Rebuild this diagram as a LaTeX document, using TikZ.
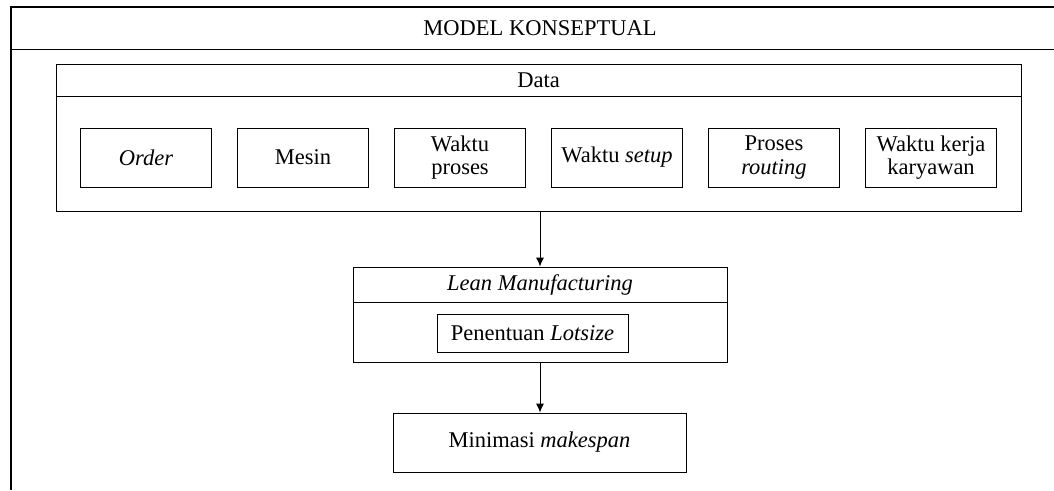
\documentclass[tikz,border=0pt]{standalone}
\usepackage{fontspec}
\setmainfont{Liberation Serif}
\usetikzlibrary{arrows.meta}
\begin{document}
\begin{tikzpicture}[x=1pt,y=-1pt,
  every node/.style={font=\fontsize{22.5}{23.5}\selectfont, inner sep=0pt},
  box/.style={draw, line width=0.9pt, minimum width=131pt, minimum height=59pt, align=center},
  frame/.style={draw, line width=0.9pt},
  arr/.style={line width=0.9pt, -{Latex[length=9pt,width=8pt]}}]
\useasboundingbox (0,0) rectangle (1054,490);
% outer frame (cropped on right and bottom)
\draw[line width=1.3pt] (11,490) -- (11,7) -- (1054,7);
\draw[line width=0.9pt] (11,49) -- (1054,49);
\node (title) at (540,28) {MODEL KONSEPTUAL};
% Data box
\node[frame, minimum width=965pt, minimum height=147pt] (data) at (538.5,137.5) {};
\draw[line width=0.9pt] (56,96) -- (1021,96);
\node (datat) at (538.5,80) {Data};
\node[box] (o) at (146,157.5) {\textit{Order}};
\node[box] (m) at (303,157.5) {Mesin};
\node[box] (wp) at (460,157.5) {Waktu\\proses};
\node[box] (ws) at (617,157.5) {Waktu \textit{setup}};
\node[box] (pr) at (774,157.5) {Proses\\\textit{routing}};
\node[box] (wk) at (931,157.5) {Waktu kerja\\karyawan};
% Lean box
\node[frame, minimum width=374pt, minimum height=95pt] (lean) at (540,314.5) {};
\draw[line width=0.9pt] (353,302) -- (727,302);
\node (leant) at (540,284.5) {\textit{Lean Manufacturing}};
\node[box, minimum width=191pt, minimum height=38pt] (pl) at (532.5,333) {Penentuan \textit{Lotsize}};
% Minimasi
\node[box, minimum width=293pt, minimum height=59pt] (mm) at (539.5,442.5) {Minimasi \textit{makespan}};
\draw[arr] (data.south -| lean.north) -- (lean.north);
\draw[arr] (lean.south) -- (lean.south |- mm.north);
\end{tikzpicture}
\end{document}
